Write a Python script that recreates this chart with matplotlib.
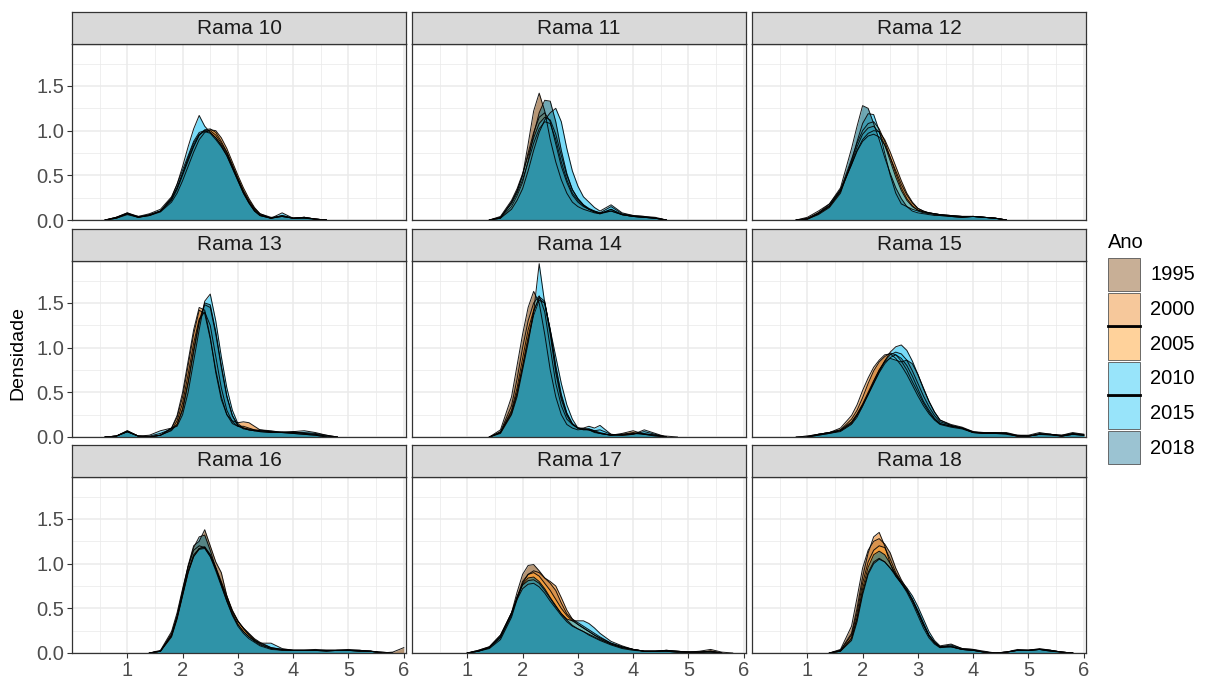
import numpy as np
import matplotlib
matplotlib.use("Agg")
import matplotlib.pyplot as plt
from matplotlib.patches import Rectangle
from matplotlib.ticker import MultipleLocator

plt.rcParams['font.family'] = ['Liberation Sans', 'DejaVu Sans']

# density curves, all sampled on the same grid of "x" values
X = [0.6, 0.8, 1.0, 1.2, 1.4, 1.6, 1.8, 1.9, 2.0, 2.1, 2.2, 2.3, 2.4, 2.5, 2.6, 2.7, 2.8, 2.9,
     3.0, 3.1, 3.2, 3.3, 3.4, 3.6, 3.8, 4.0, 4.2, 4.4, 4.6, 4.8, 5.0, 5.2, 5.4, 5.6, 5.8, 6.0]

years = ['1995', '2000', '2005', '2010', '2015', '2018']
fill_colors = ['#915f2d', '#ed9137', '#ffa537', '#31c9f5', '#31c9f5', '#237a8c']
key_colors = ['#c8af96', '#f6c89b', '#ffd29b', '#98e4fa', '#98e4fa', '#9bc3d2']
panels = ['Rama 10', 'Rama 11', 'Rama 12', 'Rama 13', 'Rama 14', 'Rama 15', 'Rama 16', 'Rama 17', 'Rama 18']

rama10 = [
    [0, 0.03, 0.08, 0.03, 0.06, 0.1, 0.22, 0.34, 0.5, 0.66, 0.82, 0.95, 1.0, 1.0, 0.95, 0.86, 0.76, 0.62, 0.47, 0.33, 0.22, 0.13, 0.07, 0.02, 0.05, 0.02, 0.03, 0.01, 0],
    [0, 0.02, 0.07, 0.04, 0.05, 0.09, 0.2, 0.3, 0.44, 0.6, 0.76, 0.9, 0.98, 1.01, 1.0, 0.92, 0.8, 0.65, 0.5, 0.36, 0.24, 0.14, 0.07, 0.03, 0.04, 0.02, 0.02, 0.01, 0],
    [0, 0.03, 0.07, 0.03, 0.06, 0.1, 0.24, 0.36, 0.52, 0.68, 0.83, 0.95, 1.01, 1.02, 0.98, 0.88, 0.76, 0.6, 0.46, 0.32, 0.2, 0.12, 0.06, 0.02, 0.04, 0.02, 0.03, 0.01, 0],
    [0, 0.02, 0.06, 0.03, 0.05, 0.1, 0.25, 0.4, 0.6, 0.82, 1.02, 1.17, 1.05, 0.98, 0.92, 0.83, 0.72, 0.58, 0.44, 0.3, 0.19, 0.1, 0.05, 0.02, 0.08, 0.02, 0.03, 0.01, 0],
    [0, 0.03, 0.08, 0.04, 0.07, 0.12, 0.26, 0.4, 0.56, 0.72, 0.88, 0.98, 1.0, 0.98, 0.92, 0.84, 0.74, 0.6, 0.45, 0.31, 0.2, 0.11, 0.05, 0.02, 0.05, 0.02, 0.02, 0.01, 0],
    [0, 0.02, 0.07, 0.03, 0.05, 0.1, 0.23, 0.36, 0.52, 0.7, 0.86, 0.96, 0.99, 0.97, 0.9, 0.82, 0.72, 0.58, 0.44, 0.3, 0.19, 0.1, 0.05, 0.02, 0.04, 0.02, 0.03, 0.01, 0],
]
rama11 = [
    [0, 0, 0, 0, 0, 0.02, 0.2, 0.33, 0.5, 0.85, 1.22, 1.42, 1.22, 0.9, 0.65, 0.45, 0.3, 0.2, 0.15, 0.12, 0.1, 0.08, 0.07, 0.1, 0.06, 0.04, 0.03, 0.02, 0],
    [0, 0, 0, 0, 0, 0.03, 0.2, 0.32, 0.5, 0.75, 0.98, 1.15, 1.2, 1.1, 0.85, 0.6, 0.42, 0.28, 0.2, 0.15, 0.12, 0.1, 0.08, 0.1, 0.06, 0.04, 0.03, 0.02, 0],
    [0, 0, 0, 0, 0, 0.03, 0.18, 0.3, 0.45, 0.65, 0.86, 1.02, 1.1, 1.08, 0.9, 0.65, 0.45, 0.3, 0.22, 0.16, 0.12, 0.09, 0.07, 0.12, 0.06, 0.04, 0.03, 0.02, 0],
    [0, 0, 0, 0, 0, 0.02, 0.12, 0.22, 0.35, 0.55, 0.78, 0.98, 1.12, 1.2, 1.25, 1.1, 0.8, 0.55, 0.38, 0.26, 0.2, 0.14, 0.1, 0.17, 0.08, 0.05, 0.04, 0.03, 0],
    [0, 0, 0, 0, 0, 0.04, 0.22, 0.35, 0.52, 0.72, 0.92, 1.08, 1.15, 1.12, 0.96, 0.72, 0.5, 0.34, 0.24, 0.17, 0.13, 0.1, 0.08, 0.15, 0.07, 0.05, 0.04, 0.02, 0],
    [0, 0, 0, 0, 0, 0.02, 0.15, 0.27, 0.42, 0.66, 0.96, 1.2, 1.34, 1.33, 1.1, 0.78, 0.52, 0.34, 0.24, 0.17, 0.12, 0.09, 0.07, 0.12, 0.06, 0.04, 0.03, 0.02, 0],
]
rama12 = [
    [0, 0, 0.03, 0.1, 0.18, 0.34, 0.62, 0.77, 0.88, 0.94, 0.96, 0.93, 0.84, 0.7, 0.55, 0.4, 0.28, 0.19, 0.13, 0.1, 0.08, 0.07, 0.06, 0.05, 0.04, 0.04, 0.03, 0.02, 0],
    [0, 0, 0.02, 0.08, 0.16, 0.32, 0.62, 0.78, 0.9, 0.97, 1.0, 0.99, 0.9, 0.76, 0.6, 0.44, 0.3, 0.2, 0.13, 0.1, 0.08, 0.07, 0.06, 0.05, 0.04, 0.04, 0.03, 0.02, 0],
    [0, 0, 0.01, 0.07, 0.16, 0.34, 0.68, 0.86, 1.0, 1.08, 1.1, 1.02, 0.88, 0.7, 0.52, 0.36, 0.24, 0.16, 0.11, 0.09, 0.08, 0.07, 0.06, 0.04, 0.03, 0.04, 0.03, 0.02, 0],
    [0, 0, 0.01, 0.07, 0.15, 0.32, 0.64, 0.82, 0.96, 1.03, 1.05, 0.98, 0.84, 0.66, 0.48, 0.33, 0.22, 0.15, 0.11, 0.09, 0.08, 0.07, 0.06, 0.05, 0.04, 0.04, 0.03, 0.02, 0],
    [0, 0, 0.01, 0.06, 0.14, 0.3, 0.66, 0.88, 1.08, 1.19, 1.18, 1.0, 0.75, 0.5, 0.3, 0.18, 0.15, 0.12, 0.1, 0.08, 0.07, 0.06, 0.05, 0.04, 0.03, 0.04, 0.03, 0.02, 0],
    [0, 0, 0.01, 0.08, 0.18, 0.36, 0.8, 1.05, 1.28, 1.25, 1.08, 0.9, 0.7, 0.52, 0.36, 0.24, 0.15, 0.1, 0.08, 0.07, 0.06, 0.05, 0.05, 0.04, 0.03, 0.04, 0.03, 0.02, 0],
]
rama13 = [
    [0, 0.01, 0.06, 0.01, 0, 0.02, 0.1, 0.22, 0.45, 0.8, 1.15, 1.42, 1.38, 1.1, 0.75, 0.45, 0.25, 0.15, 0.12, 0.12, 0.1, 0.08, 0.07, 0.06, 0.05, 0.04, 0.03, 0.02, 0],
    [0, 0.01, 0.06, 0.01, 0, 0.02, 0.1, 0.24, 0.5, 0.85, 1.2, 1.45, 1.42, 1.12, 0.72, 0.42, 0.25, 0.18, 0.16, 0.17, 0.16, 0.12, 0.08, 0.07, 0.05, 0.06, 0.04, 0.03, 0.01, 0],
    [0, 0.01, 0.06, 0.01, 0, 0.02, 0.08, 0.18, 0.38, 0.7, 1.05, 1.32, 1.4, 1.25, 0.9, 0.55, 0.3, 0.17, 0.12, 0.1, 0.08, 0.07, 0.06, 0.05, 0.05, 0.04, 0.03, 0.02, 0],
    [0, 0.01, 0.07, 0.01, 0.02, 0.07, 0.1, 0.12, 0.25, 0.5, 0.85, 1.2, 1.52, 1.6, 1.3, 0.9, 0.55, 0.3, 0.15, 0.1, 0.08, 0.07, 0.08, 0.06, 0.05, 0.06, 0.07, 0.05, 0.02, 0],
    [0, 0.01, 0.06, 0.01, 0.01, 0.04, 0.09, 0.14, 0.3, 0.6, 0.95, 1.28, 1.48, 1.45, 1.15, 0.78, 0.45, 0.24, 0.13, 0.1, 0.09, 0.08, 0.07, 0.06, 0.05, 0.05, 0.05, 0.04, 0.02, 0],
    [0, 0.01, 0.07, 0.01, 0, 0.02, 0.07, 0.14, 0.32, 0.62, 0.98, 1.3, 1.5, 1.48, 1.18, 0.8, 0.46, 0.24, 0.13, 0.09, 0.08, 0.07, 0.06, 0.05, 0.06, 0.05, 0.04, 0.03, 0.01, 0],
]
rama14 = [
    [0, 0, 0, 0, 0, 0.08, 0.45, 0.8, 1.15, 1.45, 1.63, 1.5, 1.15, 0.75, 0.45, 0.25, 0.14, 0.1, 0.08, 0.09, 0.08, 0.05, 0.04, 0.02, 0.03, 0.05, 0.03, 0.02, 0.01],
    [0, 0, 0, 0, 0, 0.06, 0.35, 0.65, 1.0, 1.3, 1.5, 1.58, 1.4, 1.0, 0.6, 0.35, 0.2, 0.14, 0.1, 0.08, 0.08, 0.06, 0.04, 0.02, 0.04, 0.07, 0.03, 0.01, 0],
    [0, 0, 0, 0, 0, 0.05, 0.3, 0.55, 0.88, 1.2, 1.42, 1.55, 1.5, 1.15, 0.72, 0.42, 0.24, 0.14, 0.1, 0.09, 0.08, 0.06, 0.04, 0.02, 0.03, 0.04, 0.03, 0.02, 0],
    [0, 0, 0, 0, 0, 0.04, 0.25, 0.45, 0.75, 1.05, 1.4, 1.94, 1.5, 1.2, 0.9, 0.6, 0.36, 0.2, 0.1, 0.1, 0.12, 0.1, 0.13, 0.03, 0.02, 0.03, 0.08, 0.04, 0],
    [0, 0, 0, 0, 0, 0.05, 0.28, 0.5, 0.8, 1.12, 1.4, 1.57, 1.52, 1.18, 0.76, 0.45, 0.26, 0.15, 0.1, 0.09, 0.09, 0.07, 0.08, 0.03, 0.02, 0.03, 0.06, 0.03, 0],
    [0, 0, 0, 0, 0, 0.05, 0.26, 0.48, 0.78, 1.08, 1.36, 1.53, 1.5, 1.2, 0.8, 0.48, 0.27, 0.15, 0.1, 0.09, 0.09, 0.07, 0.05, 0.02, 0.02, 0.04, 0.04, 0.02, 0],
]
rama15 = [
    [0, 0, 0, 0.03, 0.05, 0.08, 0.2, 0.3, 0.44, 0.6, 0.74, 0.84, 0.9, 0.94, 0.92, 0.85, 0.75, 0.62, 0.5, 0.38, 0.28, 0.2, 0.15, 0.12, 0.1, 0.05, 0.04, 0.04, 0.04, 0.01, 0.01, 0.03, 0.03, 0.01, 0.03, 0.02],
    [0, 0, 0, 0.03, 0.05, 0.1, 0.24, 0.36, 0.52, 0.66, 0.78, 0.86, 0.92, 0.93, 0.88, 0.8, 0.7, 0.58, 0.46, 0.35, 0.26, 0.19, 0.14, 0.11, 0.09, 0.05, 0.04, 0.04, 0.03, 0.01, 0.01, 0.03, 0.03, 0.02, 0.04, 0.03],
    [0, 0, 0, 0.02, 0.04, 0.07, 0.16, 0.25, 0.36, 0.48, 0.6, 0.72, 0.82, 0.89, 0.92, 0.88, 0.8, 0.68, 0.54, 0.4, 0.3, 0.21, 0.15, 0.12, 0.1, 0.06, 0.04, 0.04, 0.04, 0.02, 0.01, 0.03, 0.03, 0.01, 0.03, 0.02],
    [0, 0, 0.01, 0.03, 0.05, 0.07, 0.15, 0.24, 0.35, 0.47, 0.6, 0.73, 0.85, 0.95, 1.01, 1.03, 0.97, 0.85, 0.7, 0.54, 0.4, 0.28, 0.19, 0.14, 0.11, 0.06, 0.05, 0.05, 0.05, 0.02, 0.02, 0.05, 0.03, 0.02, 0.05, 0.03],
    [0, 0, 0.01, 0.03, 0.05, 0.08, 0.17, 0.26, 0.37, 0.5, 0.63, 0.75, 0.85, 0.92, 0.95, 0.93, 0.86, 0.74, 0.6, 0.46, 0.34, 0.24, 0.17, 0.13, 0.1, 0.05, 0.05, 0.05, 0.04, 0.01, 0.01, 0.04, 0.03, 0.01, 0.04, 0.02],
    [0, 0, 0, 0.02, 0.04, 0.06, 0.14, 0.22, 0.34, 0.48, 0.62, 0.75, 0.84, 0.88, 0.86, 0.84, 0.86, 0.82, 0.7, 0.55, 0.4, 0.28, 0.19, 0.13, 0.1, 0.05, 0.04, 0.04, 0.04, 0.01, 0.01, 0.03, 0.02, 0.01, 0.03, 0.02],
]
rama16 = [
    [0, 0, 0, 0, 0, 0.02, 0.22, 0.42, 0.7, 0.98, 1.2, 1.25, 1.38, 1.2, 1.02, 0.9, 0.64, 0.46, 0.35, 0.28, 0.22, 0.16, 0.12, 0.06, 0.04, 0.03, 0.03, 0.03, 0.03, 0.03, 0.03, 0.03, 0.02, 0, 0.01, 0.06],
    [0, 0, 0, 0, 0, 0.03, 0.24, 0.45, 0.72, 0.97, 1.15, 1.2, 1.18, 1.08, 0.94, 0.78, 0.62, 0.47, 0.36, 0.28, 0.21, 0.15, 0.11, 0.06, 0.04, 0.03, 0.03, 0.03, 0.03, 0.03, 0.03, 0.03, 0.02, 0.01, 0, 0],
    [0, 0, 0, 0, 0, 0.02, 0.2, 0.4, 0.66, 0.92, 1.1, 1.17, 1.18, 1.1, 0.96, 0.8, 0.64, 0.48, 0.36, 0.27, 0.2, 0.14, 0.1, 0.05, 0.04, 0.03, 0.03, 0.03, 0.02, 0.03, 0.03, 0.02, 0.02, 0.01, 0, 0],
    [0, 0, 0, 0, 0, 0.02, 0.18, 0.38, 0.64, 0.9, 1.08, 1.17, 1.19, 1.1, 0.95, 0.78, 0.6, 0.44, 0.32, 0.24, 0.18, 0.14, 0.11, 0.11, 0.05, 0.03, 0.03, 0.04, 0.03, 0.03, 0.04, 0.03, 0.02, 0, 0, 0],
    [0, 0, 0, 0, 0, 0.02, 0.19, 0.39, 0.65, 0.9, 1.08, 1.16, 1.17, 1.08, 0.92, 0.75, 0.58, 0.43, 0.32, 0.24, 0.18, 0.13, 0.09, 0.05, 0.03, 0.03, 0.03, 0.03, 0.03, 0.03, 0.03, 0.02, 0.02, 0, 0, 0],
    [0, 0, 0, 0, 0, 0.02, 0.2, 0.4, 0.68, 0.96, 1.18, 1.3, 1.32, 1.15, 0.95, 0.76, 0.58, 0.42, 0.3, 0.22, 0.16, 0.12, 0.08, 0.04, 0.03, 0.03, 0.03, 0.03, 0.02, 0.03, 0.03, 0.02, 0.02, 0, 0, 0],
]
rama17 = [
    [0, 0, 0, 0.02, 0.06, 0.18, 0.45, 0.68, 0.88, 0.98, 0.99, 0.92, 0.84, 0.78, 0.7, 0.56, 0.44, 0.38, 0.34, 0.3, 0.26, 0.22, 0.18, 0.11, 0.07, 0.04, 0.02, 0.02, 0.03, 0.02, 0.01, 0.02, 0.04, 0.01, 0, 0],
    [0, 0, 0, 0.02, 0.05, 0.15, 0.4, 0.6, 0.78, 0.88, 0.92, 0.9, 0.84, 0.8, 0.75, 0.62, 0.48, 0.38, 0.32, 0.28, 0.24, 0.2, 0.17, 0.11, 0.07, 0.04, 0.02, 0.02, 0.02, 0.01, 0.01, 0.01, 0.02, 0, 0, 0],
    [0, 0, 0, 0.02, 0.06, 0.17, 0.42, 0.62, 0.8, 0.88, 0.9, 0.86, 0.78, 0.7, 0.6, 0.5, 0.42, 0.36, 0.32, 0.28, 0.24, 0.2, 0.16, 0.1, 0.06, 0.04, 0.02, 0.02, 0.03, 0.02, 0.01, 0.01, 0.02, 0, 0, 0],
    [0, 0, 0, 0.03, 0.07, 0.2, 0.45, 0.63, 0.76, 0.81, 0.82, 0.78, 0.7, 0.61, 0.52, 0.44, 0.38, 0.36, 0.36, 0.36, 0.33, 0.28, 0.22, 0.13, 0.08, 0.04, 0.02, 0.02, 0.03, 0.02, 0.01, 0.01, 0.01, 0, 0, 0],
    [0, 0, 0, 0.03, 0.07, 0.2, 0.45, 0.6, 0.72, 0.77, 0.78, 0.74, 0.67, 0.58, 0.5, 0.42, 0.35, 0.3, 0.27, 0.24, 0.2, 0.17, 0.14, 0.09, 0.05, 0.03, 0.02, 0.02, 0.02, 0.01, 0.01, 0.01, 0.01, 0, 0, 0],
    [0, 0, 0, 0.02, 0.06, 0.18, 0.44, 0.62, 0.77, 0.84, 0.85, 0.8, 0.72, 0.62, 0.53, 0.44, 0.37, 0.31, 0.27, 0.24, 0.21, 0.18, 0.15, 0.1, 0.06, 0.04, 0.02, 0.02, 0.02, 0.01, 0.01, 0.01, 0.02, 0, 0, 0],
]
rama18 = [
    [0, 0, 0, 0, 0, 0.04, 0.3, 0.62, 0.95, 1.15, 1.25, 1.28, 1.22, 1.12, 0.95, 0.82, 0.72, 0.6, 0.46, 0.32, 0.2, 0.12, 0.07, 0.07, 0.04, 0.03, 0.01, 0, 0.01, 0.03, 0.03, 0.04, 0.03, 0.01, 0, 0],
    [0, 0, 0, 0, 0, 0.03, 0.22, 0.5, 0.85, 1.12, 1.3, 1.35, 1.2, 1.0, 0.86, 0.78, 0.7, 0.6, 0.46, 0.32, 0.2, 0.12, 0.07, 0.07, 0.04, 0.03, 0.01, 0, 0.01, 0.03, 0.03, 0.04, 0.03, 0.01, 0, 0],
    [0, 0, 0, 0, 0, 0.03, 0.2, 0.45, 0.78, 1.02, 1.15, 1.2, 1.18, 1.05, 0.9, 0.8, 0.7, 0.58, 0.45, 0.31, 0.19, 0.11, 0.06, 0.07, 0.04, 0.03, 0.01, 0, 0.01, 0.03, 0.03, 0.04, 0.02, 0.01, 0, 0],
    [0, 0, 0, 0, 0, 0.02, 0.14, 0.35, 0.65, 0.88, 1.0, 1.05, 1.02, 0.95, 0.88, 0.8, 0.73, 0.64, 0.52, 0.38, 0.24, 0.14, 0.08, 0.1, 0.05, 0.04, 0.02, 0, 0.01, 0.04, 0.03, 0.05, 0.03, 0.01, 0, 0],
    [0, 0, 0, 0, 0, 0.02, 0.16, 0.38, 0.68, 0.9, 1.02, 1.06, 1.02, 0.95, 0.86, 0.78, 0.7, 0.6, 0.48, 0.34, 0.2, 0.12, 0.07, 0.09, 0.05, 0.04, 0.01, 0, 0.01, 0.03, 0.03, 0.04, 0.03, 0.01, 0, 0],
    [0, 0, 0, 0, 0, 0.02, 0.17, 0.4, 0.72, 0.96, 1.1, 1.14, 1.1, 1.0, 0.88, 0.78, 0.68, 0.56, 0.42, 0.28, 0.17, 0.1, 0.06, 0.08, 0.04, 0.03, 0.01, 0, 0.01, 0.03, 0.03, 0.04, 0.02, 0.01, 0, 0],
]
curves = [rama10, rama11, rama12, rama13, rama14, rama15, rama16, rama17, rama18]

W, H = 1205, 680
fig = plt.figure(figsize=(W / 100, H / 100), dpi=100)

col_left = [72, 412, 752]
row_top = [44, 261, 477]   # top of each plotting area (strip sits above it)
pw, ph, sh = 334, 176, 32

x = np.array(X)
for i, name in enumerate(panels):
    r, c = divmod(i, 3)
    ax = fig.add_axes([col_left[c] / W, 1 - (row_top[r] + ph) / H, pw / W, ph / H])
    ax.set_facecolor('white')
    for col, dens in zip(fill_colors, curves[i]):
        y = np.zeros(len(x))
        y[:len(dens)] = dens
        nz = np.nonzero(y)[0]
        lo, hi = max(nz[0] - 1, 0), min(nz[-1] + 2, len(x))
        ax.fill_between(x[lo:hi], y[lo:hi], 0, color=col, alpha=0.65, lw=0)
        ax.plot(x[lo:hi], y[lo:hi], color='black', lw=0.7, alpha=0.9)

    ax.set_xlim(0, 6.04)
    ax.set_ylim(0, 1.97)
    ax.xaxis.set_minor_locator(MultipleLocator(0.5))
    ax.yaxis.set_minor_locator(MultipleLocator(0.25))
    ax.set_xticks([1, 2, 3, 4, 5, 6])
    ax.set_yticks([0, 0.5, 1.0, 1.5])
    ax.set_yticklabels(['0.0', '0.5', '1.0', '1.5'])
    ax.set_axisbelow(True)
    ax.grid(which='major', color='#ebebeb', lw=1.1)
    ax.grid(which='minor', color='#ebebeb', lw=0.55)
    for s in ax.spines.values():
        s.set_color('#333333')
        s.set_linewidth(0.9)
    ax.tick_params(which='minor', length=0)
    ax.tick_params(which='major', length=3.5, width=0.8, color='#333333',
                   labelsize=14.5, labelcolor='#4d4d4d', pad=2)
    ax.tick_params(left=(c == 0), labelleft=(c == 0), bottom=(r == 2), labelbottom=(r == 2))

    # facet strip
    sax = fig.add_axes([col_left[c] / W, 1 - row_top[r] / H, pw / W, sh / H])
    sax.set_facecolor('#d9d9d9')
    sax.set_xticks([])
    sax.set_yticks([])
    for s in sax.spines.values():
        s.set_color('#333333')
        s.set_linewidth(0.9)
    sax.text(0.5, 0.5, name, ha='center', va='center', fontsize=15, color='#1a1a1a',
             transform=sax.transAxes)

fig.text(18 / W, 1 - 353 / H, 'Densidade', rotation=90, ha='center', va='center',
         fontsize=14, color='black')

# legend
fig.text(1108 / W, 1 - 242 / H, 'Ano', ha='left', va='center', fontsize=14.5, color='black')
key_top = 258
for k, (yrs, col) in enumerate(zip(years, key_colors)):
    top = key_top + k * 34.6
    rect = Rectangle((1108 / W, 1 - (top + 33) / H), 32 / W, 33 / H, transform=fig.transFigure,
                     facecolor=col, edgecolor='#555555', lw=0.6)
    fig.patches.append(rect)
    if yrs in ('2000', '2010'):
        fig.lines.append(plt.Line2D([1108 / W, 1140 / W], [1 - (top + 33) / H] * 2,
                                    transform=fig.transFigure, color='black', lw=2))
    fig.text(1150 / W, 1 - (top + 17) / H, yrs, ha='left', va='center', fontsize=14.5, color='black')

fig.savefig('out.png', dpi=100)
